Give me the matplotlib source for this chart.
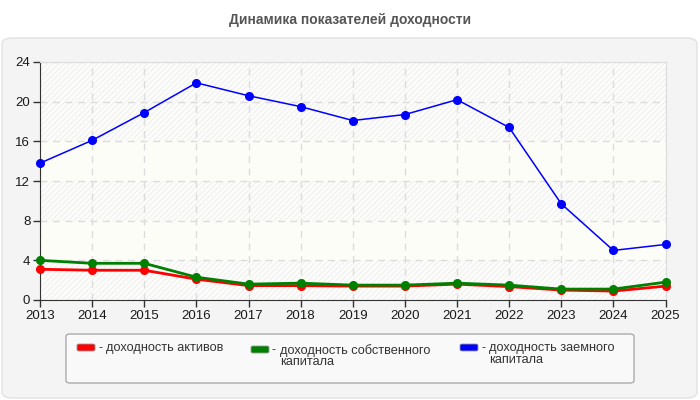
import matplotlib.pyplot as plt
from matplotlib.patches import FancyBboxPatch

# data
years = [2013, 2014, 2015, 2016, 2017, 2018, 2019, 2020, 2021, 2022, 2023, 2024, 2025]
assets = [3.1, 3.0, 3.0, 2.1, 1.45, 1.45, 1.4, 1.4, 1.6, 1.35, 1.0, 0.9, 1.4]
equity = [4.0, 3.7, 3.7, 2.3, 1.6, 1.7, 1.5, 1.5, 1.7, 1.5, 1.1, 1.1, 1.8]
debt = [13.8, 16.1, 18.9, 21.9, 20.6, 19.5, 18.1, 18.7, 20.2, 17.4, 9.7, 5.0, 5.6]

labels = ['доходность активов', 'доходность собственного\nкапитала',
          'доходность заемного\nкапитала']
colors = ['#ff0000', '#008000', '#0000ff']
yticks = [0, 4, 8, 12, 16, 20, 24]

plt.rcParams['font.family'] = ['Liberation Sans', 'DejaVu Sans']
plt.rcParams['hatch.linewidth'] = 0.6

fig = plt.figure(figsize=(7, 4), dpi=100, facecolor='white')

# rounded grey panel behind everything
panel = FancyBboxPatch((2 / 700, 2 / 400), 695 / 700, 360 / 400,
                       boxstyle='round,pad=0,rounding_size=0.015',
                       transform=fig.transFigure, facecolor='#f4f4f4',
                       edgecolor='#e2e2e2', linewidth=1, zorder=-5)
fig.patches.append(panel)

fig.text(0.5, 1 - 20 / 400, 'Динамика показателей доходности', ha='center', va='center',
         fontsize=10, fontweight='bold', color='#555555')

ax = fig.add_axes([40 / 700, 0.25, 625.5 / 700, 238 / 400])
ax.set_facecolor('#fdfdf8')

# alternating hatched bands
for lo, hi in [(0, 4), (8, 12), (16, 24)]:
    ax.axhspan(lo, hi, facecolor='#fcfcfa', edgecolor='#ededed', hatch='//////',
               linewidth=0, zorder=0)

ax.plot(years, assets, color=colors[0], lw=2, marker='o', ms=5.5, zorder=3, clip_on=False)
ax.plot(years, equity, color=colors[1], lw=2, marker='o', ms=5.5, zorder=4, clip_on=False)
ax.plot(years, debt, color=colors[2], lw=1.1, marker='o', ms=5.5, zorder=5, clip_on=False)

ax.set_xlim(2013, 2025)
ax.set_ylim(0, 24)
ax.set_xticks(years)
ax.set_yticks(yticks)
ax.tick_params(labelsize=9.5, colors='#1a1a1a', length=5, width=1, color='#333333', pad=2)
ax.grid(True, linestyle=(0, (5, 4)), color='#dcdcdc', linewidth=1, zorder=1)
ax.set_axisbelow(True)
for side in ['left', 'bottom']:
    ax.spines[side].set_color('#333333')
for side in ['top', 'right']:
    ax.spines[side].set_color('#dddddd')

# legend box drawn by hand
lbox = FancyBboxPatch((66 / 700, 1 - 383 / 400), 568 / 700, 49 / 400,
                      boxstyle='round,pad=0,rounding_size=0.006',
                      transform=fig.transFigure, facecolor='#f9f9f9',
                      edgecolor='#aaaaaa', linewidth=1, zorder=1)
fig.patches.append(lbox)

xs = [77, 251, 460]
ys = [348, 350, 348]
for x, y, c, lab in zip(xs, ys, colors, labels):
    sw = FancyBboxPatch((x / 700, 1 - (y + 3) / 400), 18 / 700, 7 / 400,
                        boxstyle='round,pad=0,rounding_size=0.003',
                        transform=fig.transFigure, facecolor=c,
                        edgecolor='#999999', linewidth=0.6, zorder=2)
    fig.patches.append(sw)
    fig.text((x + 21) / 700, 1 - y / 400, '-', ha='left', va='center',
             fontsize=9, color='#333333')
    fig.text((x + 29) / 700, 1 - (y - 6) / 400, lab, ha='left', va='top',
             fontsize=9.2, color='#333333', linespacing=0.95)

fig.savefig('out.png', dpi=100, facecolor=fig.get_facecolor())
